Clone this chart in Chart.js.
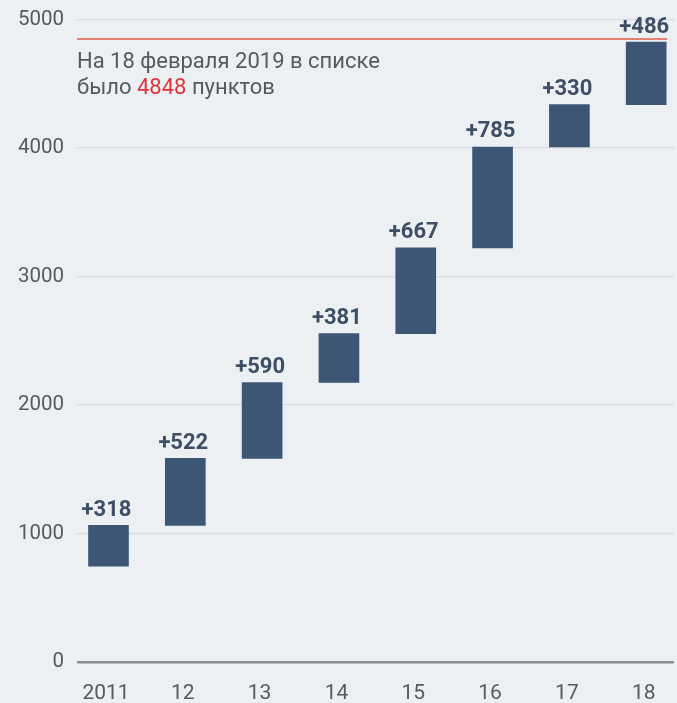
<!DOCTYPE html>
<html>
<head>
<meta charset="utf-8">
<script src="https://cdn.jsdelivr.net/npm/chart.js@4"></script>
<style>
  html, body { margin: 0; padding: 0; background: #ecf0f3; }
  #wrap { width: 677px; height: 703px; }
</style>
</head>
<body>
<div id="wrap"><canvas id="myChart" width="677" height="703"></canvas></div>
<script>
// годы (подписи оси X)
const years = ['2011', '12', '13', '14', '15', '16', '17', '18'];
// прирост за год
const increments = [318, 522, 590, 381, 667, 785, 330, 486];
// уровень, с которого начинается первый столбик
const startLevel = 745;
// итог на 18 февраля 2019
const total = 4848;
const yTicks = [0, 1000, 2000, 3000, 4000, 5000];

// плавающие столбики водопада
let level = startLevel;
const bars = increments.map(function(inc, i) {
  const bar = { x: i, y: [level, level + inc] };
  level += inc;
  return bar;
});

// подписи над столбиками + красная линия и текст
const extras = {
  id: 'extras',
  afterDatasetsDraw: function(chart) {
    const ctx = chart.ctx;
    const area = chart.chartArea;
    const ys = chart.scales.y;
    const meta = chart.getDatasetMeta(0);

    ctx.save();
    // красная линия итога
    const ly = ys.getPixelForValue(total);
    const lastBar = meta.data[meta.data.length - 1];
    ctx.strokeStyle = '#e05a48';
    ctx.lineWidth = 1.5;
    ctx.beginPath();
    ctx.moveTo(area.left, ly);
    ctx.lineTo(lastBar.x + lastBar.width / 2 + 1, ly);
    ctx.stroke();

    // подписи приростов
    ctx.font = 'bold 22px Roboto';
    ctx.fillStyle = '#3d4e65';
    ctx.textAlign = 'center';
    ctx.textBaseline = 'alphabetic';
    meta.data.forEach(function(el, i) {
      ctx.fillText('+' + increments[i], el.x - 2, el.y - 9.5);
    });

    // текст
    ctx.font = '22px Roboto';
    ctx.textAlign = 'left';
    ctx.fillStyle = '#58595c';
    const tx = area.left;
    ctx.fillText('На 18 февраля 2019 в списке', tx, ly + 28.5);
    let s = 'было ';
    ctx.fillText(s, tx, ly + 55);
    let w = ctx.measureText(s).width;
    ctx.fillStyle = '#d8383b';
    ctx.fillText(String(total), tx + w, ly + 55);
    w += ctx.measureText(String(total)).width;
    ctx.fillStyle = '#58595c';
    ctx.fillText(' пунктов', tx + w, ly + 55);
    ctx.restore();
  }
};

const ctx = document.getElementById('myChart').getContext('2d');
const myChart = new Chart(ctx, {
  type: 'bar',
  data: {
    datasets: [{
      data: bars,
      backgroundColor: '#3e5675',
      borderWidth: 0,
      barThickness: 40
    }]
  },
  options: {
    responsive: false,
    animation: false,
    layout: { padding: { top: 19.5, right: 0, bottom: 0, left: 0 } },
    plugins: {
      legend: { display: false },
      tooltip: { enabled: false }
    },
    scales: {
      x: {
        type: 'linear',
        offset: false,
        min: -0.41,
        max: 7.36,
        afterBuildTicks: function(scale) {
          scale.ticks = years.map(function(_, i) { return { value: i }; });
        },
        afterFit: function(scale) { scale.height = 41; },
        grid: { display: false, drawTicks: false, offset: false },
        border: { display: false },
        ticks: {
          padding: 19,
          labelOffset: -2.5,
          autoSkip: false,
          maxRotation: 0,
          color: '#58595c',
          font: { family: 'Roboto', size: 21 },
          callback: function(value) { return years[Math.round(value)]; }
        }
      },
      y: {
        min: 0,
        max: 5000,
        afterBuildTicks: function(scale) {
          scale.ticks = yTicks.map(function(v) { return { value: v }; });
        },
        afterFit: function(scale) {
          scale.width = 77;
          scale.paddingTop = 0;
          scale.paddingBottom = 0;
        },
        border: { display: false },
        grid: {
          drawTicks: false,
          color: function(c) { return c.tick && c.tick.value === 0 ? '#8b8e92' : '#d8dce1'; },
          lineWidth: function(c) { return c.tick && c.tick.value === 0 ? 2.5 : 1.2; }
        },
        ticks: {
          padding: 13,
          color: '#58595c',
          font: { family: 'Roboto', size: 20.5 },
          callback: function(value) { return String(value); }
        }
      }
    }
  },
  plugins: [extras]
});
</script>
</body>
</html>
